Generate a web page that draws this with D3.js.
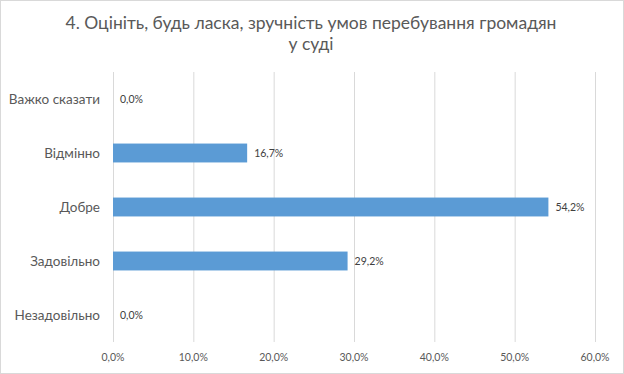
<!DOCTYPE html>
<html><head><meta charset="utf-8">
<script src="https://cdn.jsdelivr.net/npm/d3@7"></script>
<style>body{margin:0;background:#fff}svg{display:block}</style>
</head><body>
<svg id="c" width="624" height="374"></svg>
<script>
const categories = ["Важко сказати","Відмінно","Добре","Задовільно","Незадовільно"];
const values = [0.0, 16.7, 54.2, 29.2, 0.0];
const ticks = [0,10,20,30,40,50,60];
const titleLines = ["4. Оцініть, будь ласка, зручність умов перебування громадян","у суді"];

const svg = d3.select("#c");
const font = "Lato, 'Open Sans', sans-serif";
svg.append("rect").attr("x",0.5).attr("y",0.5).attr("width",623).attr("height",373)
  .attr("fill","#fff").attr("stroke","#d9d9d9");

const x = d3.scaleLinear().domain([0,60]).range([113,595]);
const y = d3.scaleBand().domain(categories).range([72,342]).paddingInner(0.65).paddingOuter(0.325);

const fmt = v => d3.format(".1f")(v).replace(".",",") + "%";

svg.append("g").selectAll("line").data(ticks).join("line")
  .attr("x1",d=>x(d)+0.5).attr("x2",d=>x(d)+0.5).attr("y1",72).attr("y2",342)
  .attr("stroke","#d9d9d9").attr("stroke-width",1);

svg.append("g").selectAll("text").data(ticks).join("text")
  .attr("x",d=>x(d)).attr("y",361).attr("text-anchor","middle")
  .attr("font-family",font).attr("font-size",10.5).attr("fill","#595959")
  .text(d=>fmt(d));

svg.append("g").selectAll("rect").data(values).join("rect")
  .attr("x",x(0)).attr("y",(d,i)=>y(categories[i]))
  .attr("width",d=>x(d)-x(0)).attr("height",y.bandwidth())
  .attr("fill","#5b9bd5");

svg.append("g").selectAll("text").data(values).join("text")
  .attr("x",d=>x(d)+7).attr("y",(d,i)=>y(categories[i])+y.bandwidth()/2+3.5)
  .attr("font-family",font).attr("font-size",10.5).attr("fill","#404040")
  .text(d=>fmt(d));

svg.append("g").selectAll("text").data(categories).join("text")
  .attr("x",100).attr("y",d=>y(d)+y.bandwidth()/2+4.5).attr("text-anchor","end")
  .attr("font-family",font).attr("font-size",13.5).attr("fill","#595959")
  .text(d=>d);

svg.append("g").selectAll("text").data(titleLines).join("text")
  .attr("x",311).attr("y",(d,i)=>29+i*21).attr("text-anchor","middle")
  .attr("font-family",font).attr("font-size",17.5).attr("fill","#595959")
  .text(d=>d);
</script>
</body></html>
